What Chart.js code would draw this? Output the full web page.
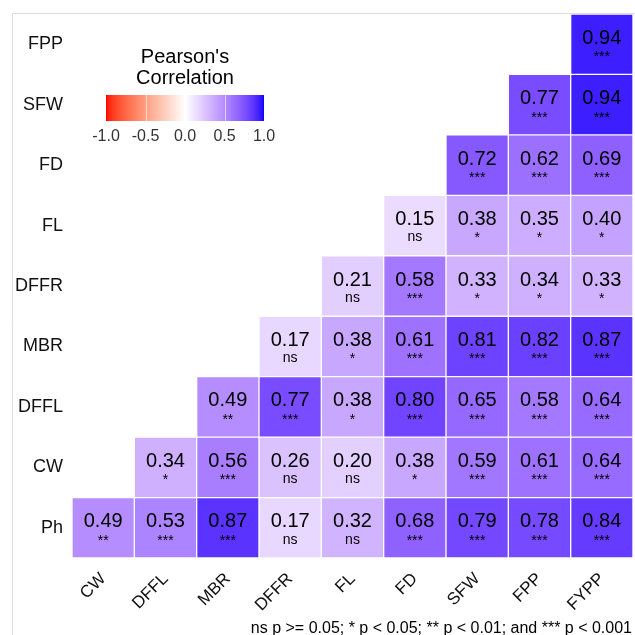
<!DOCTYPE html>
<html>
<head>
<meta charset="utf-8">
<script src="https://cdn.jsdelivr.net/npm/chart.js@4/dist/chart.umd.min.js"></script>
<style>
  html, body { margin: 0; padding: 0; background: #fff; }
  #wrap { width: 635px; height: 635px; }
</style>
</head>
<body>
<div id="wrap"><canvas id="corrChart" width="635" height="635"></canvas></div>
<script>
// columns left to right, rows top to bottom
const cols = ['CW', 'DFFL', 'MBR', 'DFFR', 'FL', 'FD', 'SFW', 'FPP', 'FYPP'];
const rows = ['FPP', 'SFW', 'FD', 'FL', 'DFFR', 'MBR', 'DFFL', 'CW', 'Ph'];

// correlation per row (aligned with cols), null = empty cell
const rFPP  = [null, null, null, null, null, null, null, null, 0.94];
const rSFW  = [null, null, null, null, null, null, null, 0.77, 0.94];
const rFD   = [null, null, null, null, null, null, 0.72, 0.62, 0.69];
const rFL   = [null, null, null, null, null, 0.15, 0.38, 0.35, 0.40];
const rDFFR = [null, null, null, null, 0.21, 0.58, 0.33, 0.34, 0.33];
const rMBR  = [null, null, null, 0.17, 0.38, 0.61, 0.81, 0.82, 0.87];
const rDFFL = [null, null, 0.49, 0.77, 0.38, 0.80, 0.65, 0.58, 0.64];
const rCW   = [null, 0.34, 0.56, 0.26, 0.20, 0.38, 0.59, 0.61, 0.64];
const rPh   = [0.49, 0.53, 0.87, 0.17, 0.32, 0.68, 0.79, 0.78, 0.84];

// significance labels per row
const sFPP  = ['', '', '', '', '', '', '', '', '***'];
const sSFW  = ['', '', '', '', '', '', '', '***', '***'];
const sFD   = ['', '', '', '', '', '', '***', '***', '***'];
const sFL   = ['', '', '', '', '', 'ns', '*', '*', '*'];
const sDFFR = ['', '', '', '', 'ns', '***', '*', '*', '*'];
const sMBR  = ['', '', '', 'ns', '*', '***', '***', '***', '***'];
const sDFFL = ['', '', '**', '***', '*', '***', '***', '***', '***'];
const sCW   = ['', '*', '***', 'ns', 'ns', '*', '***', '***', '***'];
const sPh   = ['**', '***', '***', 'ns', 'ns', '***', '***', '***', '***'];

const legendTicks = [-1.0, -0.5, 0.0, 0.5, 1.0];
const captionText = 'ns p >= 0.05; * p < 0.05; ** p < 0.01; and *** p < 0.001';

const corrRows = [rFPP, rSFW, rFD, rFL, rDFFR, rMBR, rDFFL, rCW, rPh];
const sigRows = [sFPP, sSFW, sFD, sFL, sDFFR, sMBR, sDFFL, sCW, sPh];

// --- colour: red - white - blue interpolated in Lab like ggplot's gradient2
function toLin(c) { c /= 255; return c <= 0.04045 ? c / 12.92 : Math.pow((c + 0.055) / 1.055, 2.4); }
function fromLin(c) { c = c <= 0.0031308 ? 12.92 * c : 1.055 * Math.pow(c, 1 / 2.4) - 0.055; return Math.max(0, Math.min(255, Math.round(c * 255))); }
function rgb2lab(r, g, b) {
    r = toLin(r); g = toLin(g); b = toLin(b);
    let x = (r * 0.4124 + g * 0.3576 + b * 0.1805) / 0.95047;
    let y = (r * 0.2126 + g * 0.7152 + b * 0.0722);
    let z = (r * 0.0193 + g * 0.1192 + b * 0.9505) / 1.08883;
    const f = t => t > 0.008856 ? Math.cbrt(t) : 7.787 * t + 16 / 116;
    x = f(x); y = f(y); z = f(z);
    return [116 * y - 16, 500 * (x - y), 200 * (y - z)];
}
function lab2rgb(L, a, b) {
    let y = (L + 16) / 116, x = a / 500 + y, z = y - b / 200;
    const fi = t => t * t * t > 0.008856 ? t * t * t : (t - 16 / 116) / 7.787;
    x = fi(x) * 0.95047; y = fi(y); z = fi(z) * 1.08883;
    const r = x * 3.2406 + y * -1.5372 + z * -0.4986;
    const g = x * -0.9689 + y * 1.8758 + z * 0.0415;
    const bb = x * 0.0557 + y * -0.2040 + z * 1.0570;
    return [fromLin(r), fromLin(g), fromLin(bb)];
}
const labRed = rgb2lab(255, 0, 0), labWhite = rgb2lab(255, 255, 255), labBlue = rgb2lab(0, 0, 255);
function corrColor(v) {
    const end = v < 0 ? labRed : labBlue;
    const t = Math.min(1, Math.abs(v));
    const c = lab2rgb(
        labWhite[0] + (end[0] - labWhite[0]) * t,
        labWhite[1] + (end[1] - labWhite[1]) * t,
        labWhite[2] + (end[2] - labWhite[2]) * t);
    return 'rgb(' + c.join(',') + ')';
}

// one floating-bar dataset per row; y index 0 = bottom row
const datasets = corrRows.map((vals, ri) => {
    const yi = rows.length - 1 - ri;
    const pts = [];
    vals.forEach((v, ci) => {
        if (v === null) return;
        pts.push({ x: cols[ci], y: [yi - 0.5, yi + 0.5], v: v, s: sigRows[ri][ci] });
    });
    return {
        label: rows[ri],
        data: pts,
        grouped: false,
        barPercentage: 1,
        categoryPercentage: 1,
        backgroundColor: ctx => ctx.raw ? corrColor(ctx.raw.v) : '#fff',
        borderColor: 'rgba(255,255,255,0.18)',
        borderWidth: 1,
        borderSkipped: false
    };
});

const FONT = '"Liberation Sans", Arial, sans-serif';

const cellText = {
    id: 'cellText',
    afterDatasetsDraw(chart) {
        const ctx = chart.ctx;
        ctx.save();
        ctx.fillStyle = '#000';
        ctx.textAlign = 'center';
        ctx.textBaseline = 'middle';
        chart.data.datasets.forEach((ds, di) => {
            chart.getDatasetMeta(di).data.forEach((el, i) => {
                const p = ds.data[i];
                const cx = el.x, cy = (el.y + el.base) / 2;
                ctx.font = '20px ' + FONT;
                ctx.fillText(p.v.toFixed(2), cx, cy - 6);
                ctx.font = '14px ' + FONT;
                ctx.fillText(p.s, cx, p.s === 'ns' ? cy + 12 : cy + 13);
            });
        });
        ctx.restore();
    }
};

const frameAndLegend = {
    id: 'frameAndLegend',
    beforeDraw(chart) {
        const ctx = chart.ctx;
        ctx.save();
        ctx.strokeStyle = '#dcdcdc';
        ctx.lineWidth = 1;
        ctx.beginPath();
        ctx.moveTo(12.5, 635);
        ctx.lineTo(12.5, 13.5);
        ctx.lineTo(635, 13.5);
        ctx.stroke();
        ctx.restore();
    },
    afterDraw(chart) {
        const ctx = chart.ctx;
        ctx.save();
        // legend title
        ctx.fillStyle = '#000';
        ctx.textAlign = 'center';
        ctx.textBaseline = 'alphabetic';
        ctx.font = '20px ' + FONT;
        ctx.fillText("Pearson's", 185, 63);
        ctx.fillText('Correlation', 185, 84);
        // colour bar
        const x0 = 106, x1 = 264, y0 = 95, y1 = 121;
        for (let x = x0; x < x1; x++) {
            const v = -1 + 2 * ((x + 0.5 - x0) / (x1 - x0));
            ctx.fillStyle = corrColor(v);
            ctx.fillRect(x, y0, 1, y1 - y0);
        }
        ctx.strokeStyle = 'rgba(255,255,255,0.6)';
        ctx.lineWidth = 1;
        ctx.font = '16px ' + FONT;
        ctx.fillStyle = '#333';
        ctx.textBaseline = 'middle';
        legendTicks.forEach(t => {
            const x = x0 + (t + 1) / 2 * (x1 - x0);
            if (t > -1 && t < 1) {
                ctx.beginPath();
                ctx.moveTo(Math.round(x) + 0.5, y0);
                ctx.lineTo(Math.round(x) + 0.5, y1);
                ctx.stroke();
            }
            ctx.fillText(t.toFixed(1), x, 137);
        });
        // caption
        ctx.fillStyle = '#000';
        ctx.textAlign = 'right';
        ctx.textBaseline = 'alphabetic';
        ctx.font = '16px ' + FONT;
        ctx.fillText(captionText, 632, 633);
        ctx.restore();
    }
};

new Chart(document.getElementById('corrChart').getContext('2d'), {
    type: 'bar',
    data: { labels: cols, datasets: datasets },
    options: {
        responsive: false,
        animation: false,
        layout: { padding: { left: 0, top: 14, right: 2, bottom: 0 } },
        plugins: {
            legend: { display: false },
            tooltip: { enabled: false }
        },
        scales: {
            x: {
                type: 'category',
                grid: { display: false, drawTicks: false },
                border: { display: false },
                ticks: {
                    color: '#111',
                    font: { family: FONT, size: 17 },
                    maxRotation: 45,
                    minRotation: 45,
                    padding: 11
                },
                afterFit: s => { s.height = 77; s.paddingLeft = 0; s.paddingRight = 0; }
            },
            y: {
                type: 'linear',
                min: -0.5,
                max: 8.5,
                grid: { display: false, drawTicks: false },
                border: { display: false },
                afterBuildTicks: s => { s.ticks = rows.map((r, i) => ({ value: i })); },
                ticks: {
                    color: '#111',
                    font: { family: FONT, size: 18 },
                    padding: 9,
                    callback: v => rows[rows.length - 1 - v]
                },
                afterFit: s => { s.width = 72; s.paddingTop = 0; s.paddingBottom = 0; }
            }
        }
    },
    plugins: [cellText, frameAndLegend]
});
</script>
</body>
</html>
